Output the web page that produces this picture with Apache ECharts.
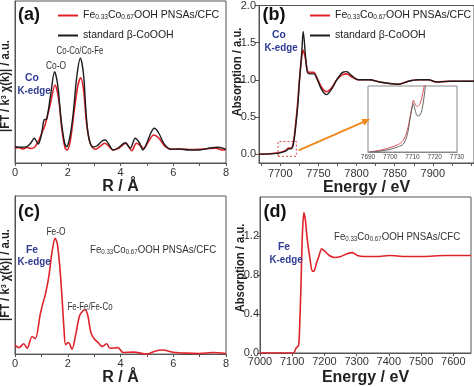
<!DOCTYPE html>
<html><head><meta charset="utf-8">
<script src="https://cdn.jsdelivr.net/npm/echarts@6/dist/echarts.min.js"></script>
<style>html,body{margin:0;padding:0;background:#fff}#c{width:474px;height:387px}</style>
</head><body><div id="c"></div>
<script>
// ---------- DATA ----------
const NAME_FE = 'Fe0.33Co0.67OOH PNSAs/CFC';
const NAME_STD = 'standard β-CoOOH';

// (a) Co K-edge FT, R (Å) vs |FT| (a.u.)
const ftCoStd = [[0,1.63],[0.25,1.57],[0.45,1.63],[0.6,2.0],[0.73,2.47],[0.88,1.9],[1.0,2.8],[1.1,4.3],[1.2,4.4],[1.35,6.8],[1.5,9.13],[1.62,7.8],[1.75,4.3],[1.88,2.0],[1.96,1.63],[2.08,2.6],[2.2,4.8],[2.35,8.8],[2.48,10.47],[2.6,8.8],[2.7,4.8],[2.8,2.5],[2.95,1.6],[3.1,1.7],[3.3,2.2],[3.42,2.3],[3.55,1.9],[3.72,1.3],[3.9,1.5],[4.18,2.03],[4.37,1.47],[4.56,2.47],[4.72,2.0],[4.85,1.3],[5.0,2.0],[5.15,3.0],[5.28,3.47],[5.45,3.0],[5.64,1.97],[5.9,1.37],[6.2,1.4],[6.6,1.3],[7.0,1.3],[7.4,1.5],[7.7,1.57],[8.0,1.37]];
const ftCoFe = [[0,1.47],[0.15,1.55],[0.3,1.4],[0.45,1.55],[0.6,1.45],[0.75,1.6],[0.88,2.13],[1.0,2.9],[1.14,3.8],[1.33,5.8],[1.52,7.8],[1.65,6.5],[1.78,3.3],[1.9,1.5],[1.98,1.3],[2.1,2.3],[2.25,5.3],[2.38,7.7],[2.49,8.53],[2.6,7.3],[2.72,3.8],[2.85,2.0],[3.04,1.37],[3.2,1.6],[3.4,1.97],[3.55,1.7],[3.72,1.3],[3.95,1.5],[4.2,1.97],[4.43,1.23],[4.6,1.97],[4.75,1.75],[4.88,1.45],[5.05,2.1],[5.26,2.8],[5.45,2.5],[5.7,1.63],[5.95,1.37],[6.3,1.4],[6.7,1.35],[7.1,1.4],[7.6,1.47],[7.9,1.3],[8.0,1.35]];

// (b) Co K-edge XANES, energy (eV) vs absorption
const xanesCoStd = [[7672,0.0],[7696,0.01],[7707,0.04],[7711,0.07],[7714,0.07],[7717,0.13],[7720,0.36],[7723,0.67],[7725,0.97],[7728,1.36],[7730,1.65],[7733,1.32],[7735.5,1.10],[7738.6,1.08],[7744,1.08],[7747,1.04],[7754,0.87],[7760.5,0.80],[7767,0.87],[7774,1.0],[7781.6,1.10],[7787,1.11],[7793,1.06],[7802,1.0],[7817,1.0],[7830,0.97],[7843,0.95],[7855,0.94],[7868,0.98],[7881,1.0],[7894,1.0],[7905,0.97],[7922,0.98],[7940,0.98],[7954,0.98]];
const xanesCoFe = [[7672,0.0],[7696,0.015],[7707,0.05],[7711,0.08],[7714,0.08],[7717,0.15],[7720,0.40],[7723,0.72],[7725,1.0],[7728,1.30],[7730,1.40],[7733,1.28],[7735.5,1.12],[7738.6,1.10],[7744,1.10],[7747,1.05],[7754,0.90],[7760.5,0.84],[7767,0.89],[7774,1.0],[7781.6,1.07],[7787,1.08],[7793,1.04],[7802,1.0],[7817,1.0],[7830,0.97],[7843,0.95],[7855,0.94],[7868,0.98],[7881,1.0],[7894,1.0],[7905,0.97],[7922,0.98],[7940,0.98],[7954,0.98]];
// (b) inset: pre-edge region
const insetCoStd = [[7690.6,0],[7695.4,0.002],[7699.9,0.006],[7703.6,0.012],[7705.9,0.018],[7707.7,0.04],[7708.9,0.075],[7710,0.105],[7710.4,0.11],[7711.1,0.097],[7712.2,0.082],[7713.4,0.084],[7714.3,0.097],[7715.2,0.125],[7715.8,0.15],[7716.4,0.17]];
const insetCoFe = [[7690.6,0],[7695.4,0.004],[7699.9,0.01],[7703.6,0.017],[7705.9,0.027],[7707.7,0.05],[7708.9,0.08],[7710,0.109],[7710.4,0.118],[7711.1,0.11],[7712.2,0.103],[7713.4,0.11],[7714.3,0.126],[7714.9,0.141],[7715.6,0.16]];

// (c) Fe K-edge FT
const ftFe = [[0,0.93],[0.15,0.67],[0.33,1.07],[0.46,0.6],[0.65,1.83],[0.77,1.6],[0.96,4.17],[1.08,5.5],[1.15,6.17],[1.28,8.0],[1.4,10.5],[1.52,12.0],[1.6,11.5],[1.7,9.0],[1.78,6.0],[1.86,2.5],[1.92,1.0],[2.03,1.2],[2.16,0.5],[2.3,2.0],[2.45,4.0],[2.58,4.5],[2.66,4.6],[2.76,4.0],[2.88,2.2],[3.0,1.6],[3.15,1.2],[3.3,0.8],[3.48,1.07],[3.6,0.6],[3.9,0.67],[4.1,0.17],[4.5,0.2],[5.0,0.0],[5.3,0.3],[5.6,0.43],[6.0,0.2],[6.5,0.1],[7.0,0.07],[7.5,0.17],[8.0,0.07]];

// (d) Fe K-edge XANES
const xanesFe = [[7000,0],[7104,0.0],[7112,0.05],[7120,0.08],[7123,0.26],[7127,0.67],[7131,1.17],[7136,1.44],[7141,1.36],[7146.5,1.17],[7155,0.97],[7162,0.84],[7168,0.84],[7175,0.92],[7183.5,1.0],[7191,1.07],[7199,1.05],[7215,1.0],[7231,0.98],[7251,0.99],[7272,1.02],[7287,1.03],[7302,1.0],[7323,0.99],[7364,0.99],[7405,1.0],[7447,0.99],[7509,0.99],[7571,1.0],[7655,1.0]];

// tick values
const rTicks = [0,2,4,6,8];
const eCoLabels = [7700,7750,7800,7850,7900];
const eCoTicks = [7675,7700,7725,7750,7775,7800,7825,7850,7875,7900,7925,7950];
const absCoLabels = [0,0.5,1.0,1.5,2.0];
const eFeLabels = [7000,7100,7200,7300,7400,7500,7600];
const absFeLabels = [0,0.4,0.8,1.2];
const insetLabels = [7690,7700,7710,7720,7730];
// box and arrow in (b)
const zoomBox = [[7697,-0.03],[7721,0.17]];
const arrowLine = [[7724,0.05],[7813,0.45]];

// ---------- STYLE ----------
const RED = '#e0232a', BLACK = '#1c1c1c', BLUE = '#2e3b93', AX = '#555';
const FONT = 'Liberation Sans, Arial, Helvetica, sans-serif';
const plain = v => String(v);

function xAxisBase(gi, min, max, extra) {
  return Object.assign({
    gridIndex: gi, type: 'value', min, max,
    axisLine: {show: true, onZero: false, lineStyle: {color: AX, width: 1}},
    axisTick: {show: true, length: 3, lineStyle: {color: AX}},
    splitLine: {show: false},
    axisLabel: {color: '#333', fontSize: 11, fontFamily: FONT, margin: 4, formatter: plain},
    nameLocation: 'middle', nameGap: 15,
    nameTextStyle: {fontSize: 16, fontWeight: 'bold', color: '#222', fontFamily: FONT}
  }, extra);
}
function yAxisBase(gi, min, max, extra) {
  return Object.assign({
    gridIndex: gi, type: 'value', min, max,
    axisLine: {show: true, onZero: false, lineStyle: {color: AX, width: 1}},
    axisTick: {show: false},
    splitLine: {show: false},
    axisLabel: {show: false}
  }, extra);
}
const gridStyle = {show: true, borderColor: AX, borderWidth: 1, backgroundColor: 'transparent'};

const chart = echarts.init(document.getElementById('c'), null, {renderer: 'canvas'});

const subFmt = n => n === NAME_FE ? 'Fe{s|0.33}Co{s|0.67}OOH PNSAs/CFC' : n;
const legendRich = {s: {fontSize: 6.5, fontFamily: FONT, color: '#222', verticalAlign: 'bottom', padding: [4,0,0,0]}};
function legendAt(left, top) {
  return {
    data: [NAME_FE, NAME_STD], orient: 'vertical', left, top,
    itemWidth: 20, itemHeight: 2, itemGap: 9, icon: 'rect',
    formatter: subFmt, selectedMode: false,
    textStyle: {fontSize: 10.5, fontFamily: FONT, color: '#222', rich: legendRich}
  };
}

function txt(x, y, text, opt) {
  opt = opt || {};
  return {
    type: 'text', x, y, rotation: opt.rot || 0, scaleX: opt.sx || 1, scaleY: opt.sy || 1, z: 100,
    style: {
      text, fill: opt.color || '#333', fontSize: opt.size || 10, fontFamily: FONT,
      fontWeight: opt.bold ? 'bold' : 'normal',
      align: opt.align || 'center', textAlign: opt.align || 'center',
      verticalAlign: 'middle', textVerticalAlign: 'middle',
      rich: opt.rich
    }
  };
}
const feRich = {s: {fontSize: 7, fontFamily: FONT, fill: '#333', verticalAlign: 'bottom', padding: [4,0,0,0]}};
const supRich = {p: {fontSize: 8, fontFamily: FONT, fontWeight: 'bold', fill: '#222', verticalAlign: 'top'}};

const option = {
  animation: false,
  backgroundColor: '#fff',
  grid: [
    Object.assign({left: 15, top: 1, width: 211, height: 162}, gridStyle),
    Object.assign({left: 259, top: 2, width: 215, height: 161}, gridStyle),
    Object.assign({left: 15, top: 196, width: 211, height: 164}, gridStyle),
    Object.assign({left: 260, top: 197, width: 211, height: 161}, gridStyle),
    {left: 368, top: 86, width: 89, height: 66, show: true, borderColor: '#888', borderWidth: 1, backgroundColor: '#fff', z: 5}
  ],
  xAxis: [
    xAxisBase(0, 0, 8, {interval: 2, minorTick: {show: true, splitNumber: 2, length: 3, lineStyle: {color: AX}}, name: 'R / Å'}),
    xAxisBase(1, 7672, 7954, {axisLabel: {color: '#333', fontSize: 11, fontFamily: FONT, margin: 5, formatter: plain, customValues: eCoLabels}, axisTick: {show: true, length: 3, lineStyle: {color: AX}, customValues: eCoTicks}, name: 'Energy / eV', nameGap: 17}),
    xAxisBase(2, 0, 8, {interval: 2, minorTick: {show: true, splitNumber: 2, length: 3, lineStyle: {color: AX}}, name: 'R / Å'}),
    xAxisBase(3, 7000, 7655, {axisLabel: {color: '#333', fontSize: 11, fontFamily: FONT, margin: 3, formatter: plain, customValues: eFeLabels}, axisTick: {show: true, length: 3, lineStyle: {color: AX}, customValues: eFeLabels}, name: 'Energy / eV', nameGap: 17}),
    xAxisBase(4, 7690, 7730, {z: 6, axisLine: {show: true, lineStyle: {color: '#888'}}, axisTick: {show: false}, axisLabel: {color: '#444', fontSize: 6.5, fontFamily: FONT, margin: 2, formatter: plain, customValues: insetLabels}})
  ],
  yAxis: [
    yAxisBase(0, 0, 16.2),
    yAxisBase(1, -0.12, 2.0, {
      axisTick: {show: true, length: 4, lineStyle: {color: AX}, customValues: absCoLabels},
      axisLabel: {show: true, color: '#333', fontSize: 11, fontFamily: FONT, margin: 3, customValues: absCoLabels, formatter: v => v.toFixed(1)}
    }),
    yAxisBase(2, 0, 16.4),
    yAxisBase(3, 0, 1.6, {
      axisTick: {show: true, length: 3, lineStyle: {color: AX}, customValues: absFeLabels},
      axisLabel: {show: true, color: '#333', fontSize: 11, fontFamily: FONT, margin: 1, customValues: absFeLabels, formatter: v => v.toFixed(1)}
    }),
    yAxisBase(4, 0, 0.15, {z: 6, axisLine: {show: false}})
  ],
  legend: [legendAt(53, 5), legendAt(305, 5)],
  series: [
    {name: NAME_FE, type: 'line', xAxisIndex: 0, yAxisIndex: 0, data: ftCoFe, showSymbol: false, symbol: 'none', smooth: 0.3, color: RED, lineStyle: {width: 1.6, color: RED}},
    {name: NAME_STD, type: 'line', xAxisIndex: 0, yAxisIndex: 0, data: ftCoStd, showSymbol: false, symbol: 'none', smooth: 0.3, color: BLACK, lineStyle: {width: 1.4, color: BLACK}},
    {name: NAME_FE, type: 'line', xAxisIndex: 1, yAxisIndex: 1, data: xanesCoFe, showSymbol: false, symbol: 'none', smooth: 0.3, color: RED, lineStyle: {width: 1.6, color: RED}},
    {name: NAME_STD, type: 'line', xAxisIndex: 1, yAxisIndex: 1, data: xanesCoStd, showSymbol: false, symbol: 'none', smooth: 0.3, color: BLACK, lineStyle: {width: 1.4, color: BLACK},
      markArea: {silent: true, itemStyle: {color: 'rgba(0,0,0,0)', borderColor: '#d9484a', borderWidth: 1, borderType: [2, 2]},
        data: [[{coord: zoomBox[0]}, {coord: zoomBox[1]}]]},
      markLine: {silent: true, symbol: ['none', 'triangle'], symbolSize: [7, 8], label: {show: false},
        lineStyle: {color: '#ef8a1e', width: 2, type: 'solid'},
        data: [[{coord: arrowLine[0]}, {coord: arrowLine[1]}]]}
    },
    {name: NAME_FE, type: 'line', xAxisIndex: 2, yAxisIndex: 2, data: ftFe, showSymbol: false, symbol: 'none', smooth: 0.3, color: RED, lineStyle: {width: 1.6, color: RED}},
    {name: NAME_FE, type: 'line', xAxisIndex: 3, yAxisIndex: 3, data: xanesFe, showSymbol: false, symbol: 'none', smooth: 0.2, color: RED, lineStyle: {width: 1.6, color: RED}},
    {name: NAME_FE, type: 'line', xAxisIndex: 4, yAxisIndex: 4, z: 7, data: insetCoFe, showSymbol: false, symbol: 'none', smooth: 0.3, clip: true, color: RED, lineStyle: {width: 1, color: '#d9545a'}},
    {name: NAME_STD, type: 'line', xAxisIndex: 4, yAxisIndex: 4, z: 7, data: insetCoStd, showSymbol: false, symbol: 'none', smooth: 0.3, clip: true, color: BLACK, lineStyle: {width: 1, color: '#666'}}
  ],
  graphic: [
    txt(29, 15, '(a)', {bold: true, size: 18, color: '#111'}),
    txt(274, 15, '(b)', {bold: true, size: 18, color: '#111'}),
    txt(29, 212, '(c)', {bold: true, size: 18, color: '#111'}),
    txt(275, 212, '(d)', {bold: true, size: 18, color: '#111'}),
    // y titles
    txt(6, 86, '|FT / k{p|3} χ(k)| / a.u.', {bold: true, size: 12.5, sx: 0.9, color: '#222', rot: Math.PI / 2, rich: supRich}),
    txt(6, 275, '|FT / k{p|3} χ(k)| / a.u.', {bold: true, size: 12.5, sx: 0.9, color: '#222', rot: Math.PI / 2, rich: supRich}),
    txt(238, 72, 'Absorption / a.u.', {bold: true, size: 12.5, sx: 0.9, color: '#222', rot: Math.PI / 2}),
    txt(241, 268, 'Absorption / a.u.', {bold: true, size: 12.5, sx: 0.9, color: '#222', rot: Math.PI / 2}),
    // panel a annotations
    txt(56, 66, 'Co-O', {size: 10.5, sx: 0.8}),
    txt(80, 51, 'Co-Co/Co-Fe', {size: 10.5, sx: 0.75}),
    txt(32, 78, 'Co', {bold: true, size: 11.5, sx: 0.9, color: BLUE}),
    txt(34, 91, 'K-edge', {bold: true, size: 11.5, sx: 0.85, color: BLUE}),
    // panel b
    txt(279, 35, 'Co', {bold: true, size: 11.5, sx: 0.9, color: BLUE}),
    txt(281, 48, 'K-edge', {bold: true, size: 11.5, sx: 0.85, color: BLUE}),
    // panel c
    txt(56, 232, 'Fe-O', {size: 10.5, sx: 0.8}),
    txt(90, 307, 'Fe-Fe/Fe-Co', {size: 10.5, sx: 0.75}),
    txt(32, 250, 'Fe', {bold: true, size: 11.5, sx: 0.9, color: BLUE}),
    txt(34, 262, 'K-edge', {bold: true, size: 11.5, sx: 0.85, color: BLUE}),
    txt(90, 250, 'Fe{s|0.33}Co{s|0.67}OOH PNSAs/CFC', {size: 11, sx: 0.88, align: 'left', rich: feRich}),
    // panel d
    txt(284, 247, 'Fe', {bold: true, size: 11.5, sx: 0.9, color: BLUE}),
    txt(286, 260, 'K-edge', {bold: true, size: 11.5, sx: 0.85, color: BLUE}),
    txt(334, 237, 'Fe{s|0.33}Co{s|0.67}OOH PNSAs/CFC', {size: 11, sx: 0.88, align: 'left', rich: feRich})
  ]
};
chart.setOption(option);
</script></body></html>
